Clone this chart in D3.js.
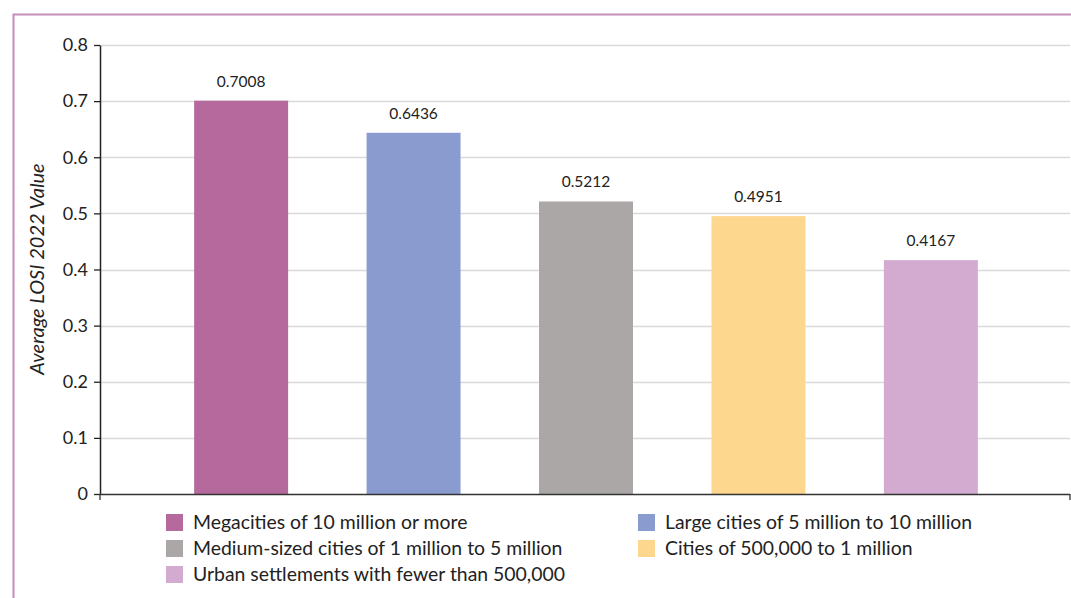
<!DOCTYPE html>
<html><head><meta charset="utf-8">
<script src="https://cdn.jsdelivr.net/npm/d3@7"></script>
<style>body{margin:0;background:#fff}svg{display:block}text{font-family:Lato,"Open Sans",sans-serif;fill:#222}</style>
</head><body><svg id="c" width="1071" height="598"></svg>
<script>
const categories = ["Megacities of 10 million or more","Large cities of 5 million to 10 million","Medium-sized cities of 1 million to 5 million","Cities of 500,000 to 1 million","Urban settlements with fewer than 500,000"];
const values = [0.7008, 0.6436, 0.5212, 0.4951, 0.4167];
const labels = ["0.7008","0.6436","0.5212","0.4951","0.4167"];
const colors = ["#B5699D","#8A9BCF","#ABA7A7","#FDD78E","#D3ABD0"];
const yTicks = [0,0.1,0.2,0.3,0.4,0.5,0.6,0.7,0.8];
const yTitle = "Average LOSI 2022 Value";

const svg = d3.select("#c");
// frame
svg.append("path").attr("d","M13.5,598 V14.5 H1071").attr("fill","none").attr("stroke","#C68CBA").attr("stroke-width",2);

const pLeft=100, pRight=1070, pTop=45, pBottom=494;
const y = d3.scaleLinear().domain([0,0.8]).range([pBottom,pTop]);
const x = d3.scaleBand().domain(categories).range([155,1017]).paddingInner(0.455).paddingOuter(0.227);

// grid
svg.append("g").selectAll("line").data(yTicks.filter(d=>d>0)).join("line")
 .attr("x1",pLeft).attr("x2",pRight).attr("y1",d=>Math.round(y(d))+0.5).attr("y2",d=>Math.round(y(d))+0.5)
 .attr("stroke","#D9D9D9").attr("stroke-width",1.3);

// bars
svg.append("g").selectAll("rect").data(values).join("rect")
 .attr("x",(d,i)=>x(categories[i])).attr("width",x.bandwidth())
 .attr("y",d=>y(d)).attr("height",d=>pBottom-y(d)).attr("fill",(d,i)=>colors[i]);

svg.append("g").selectAll("text").data(values).join("text")
 .attr("x",(d,i)=>x(categories[i])+x.bandwidth()/2).attr("y",d=>y(d)-14)
 .attr("text-anchor","middle").attr("font-size",15.5).text((d,i)=>labels[i]);

// y axis
const ya = svg.append("g").attr("transform",`translate(${pLeft},0)`)
 .call(d3.axisLeft(y).tickValues(yTicks).tickFormat(d=>d===0?"0":d3.format(".1f")(d)).tickSize(6).tickSizeOuter(0));
ya.select(".domain").attr("stroke","#222").attr("stroke-width",1.5);
ya.selectAll(".tick line").attr("stroke","#222").attr("stroke-width",1.3);
ya.selectAll(".tick text").attr("font-size",18).attr("x",-12).attr("fill","#222").style("font-family","Lato, 'Open Sans', sans-serif");

// x axis line
svg.append("line").attr("x1",pLeft).attr("x2",pRight).attr("y1",pBottom+0.5).attr("y2",pBottom+0.5).attr("stroke","#333").attr("stroke-width",1.5);
svg.append("g").selectAll("line").data([pLeft,pRight]).join("line")
 .attr("x1",d=>d).attr("x2",d=>d).attr("y1",pBottom).attr("y2",pBottom+6).attr("stroke","#333").attr("stroke-width",1.3);

// y title
svg.append("text").attr("transform","translate(44,269) rotate(-90)").attr("text-anchor","middle")
 .attr("font-size",20).attr("font-style","italic").text(yTitle);

// legend
const pos = [[166,522],[638,522],[166,548],[638,548],[166,574]];
const lg = svg.append("g").selectAll("g").data(categories).join("g").attr("transform",(d,i)=>`translate(${pos[i][0]},${pos[i][1]})`);
lg.append("rect").attr("x",0).attr("y",-8).attr("width",17).attr("height",17).attr("fill",(d,i)=>colors[i]);
lg.append("text").attr("x",27).attr("y",0).attr("dy","0.36em").attr("font-size",19.4).attr("fill","#222").text(d=>d);
</script></body></html>
